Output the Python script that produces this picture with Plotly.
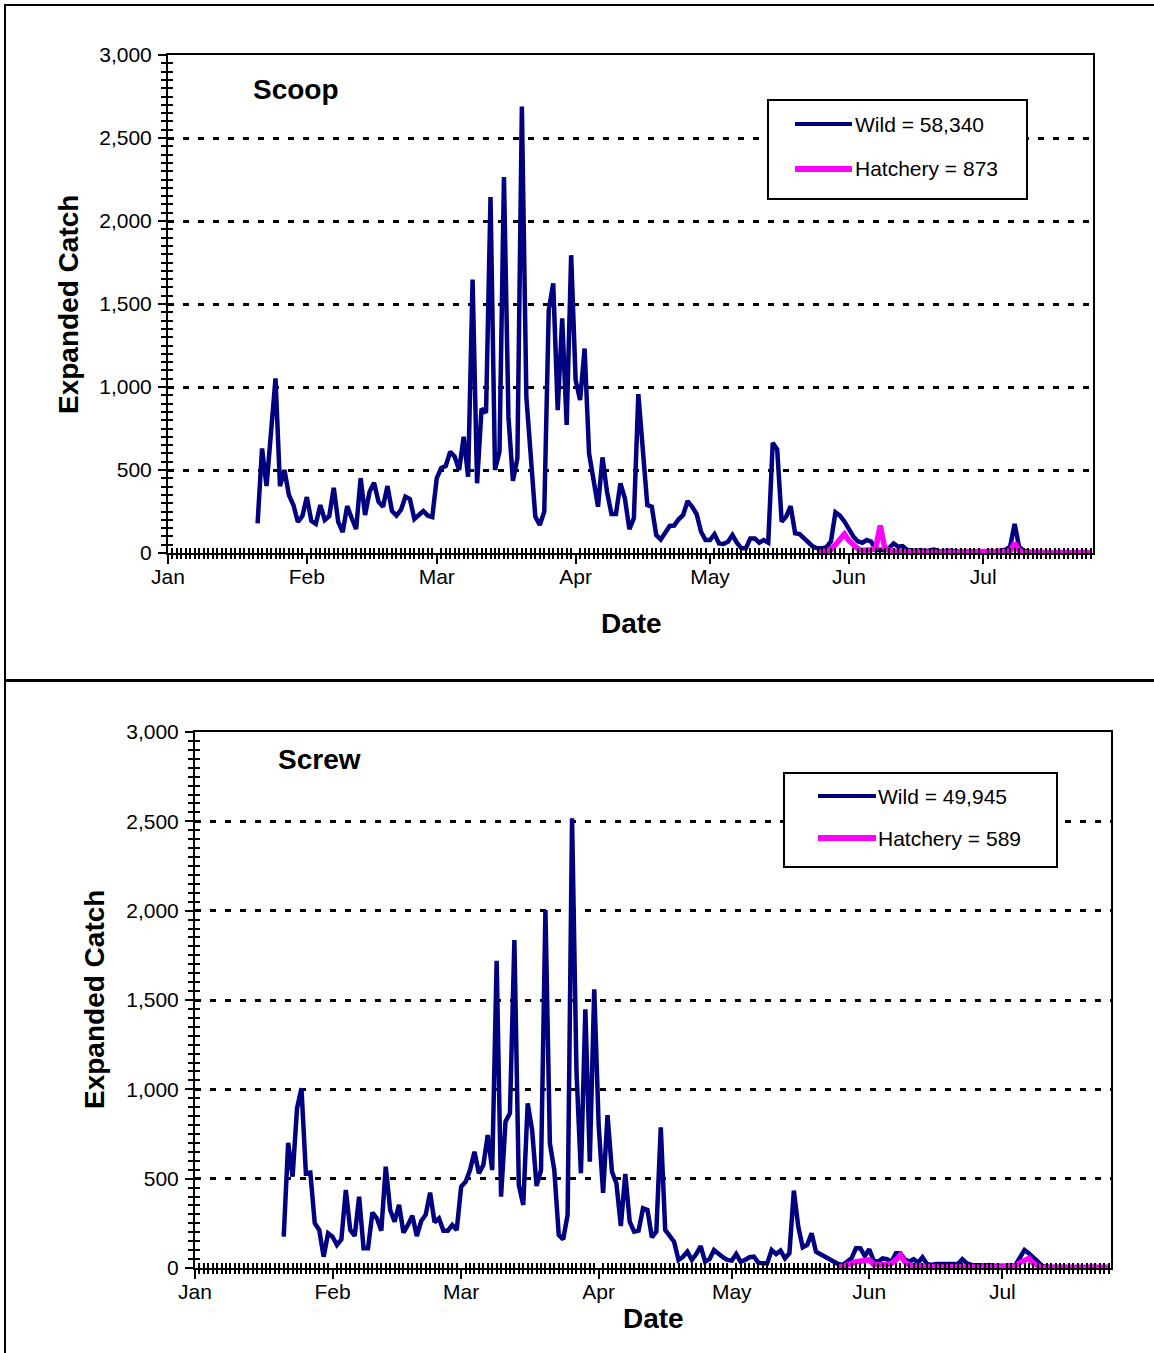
import plotly.graph_objects as go
import pandas as pd

W, H = 1154, 1353
def px(x): return x / W
def py(y): return 1 - y / H

FONT = "Liberation Sans, Arial, sans-serif"
NAVY = "#000080"
PINK = "#FF00FF"

axis_start = "2004-01-01"
axis_end = "2004-07-25 12:00"
wild_start = "2004-01-21"
hatch_start = "2004-05-25"

# Scoop trap, daily expanded catch (wild), Jan 21 - Jul 25
scoop_wild = [
    179, 630, 403, 728, 1052, 403, 500, 349, 289, 187,
    223, 337, 193, 175, 289, 199, 223, 393, 187, 126,
    283, 211, 144, 451, 229, 369, 423, 309, 279, 403,
    253, 225, 259, 339, 325, 205, 229, 253, 225, 217,
    451, 512, 524, 610, 580, 500, 700, 459, 1648, 420,
    870, 845, 2145, 500, 610, 2265, 820, 435, 570, 2690,
    940, 580, 219, 169, 249, 1463, 1624, 861, 1413, 771,
    1794, 1041, 921, 1232, 600, 440, 279, 576, 369, 235,
    235, 419, 329, 143, 209, 957, 640, 289, 279, 108,
    82, 119, 163, 165, 203, 229, 313, 279, 235, 128,
    78, 78, 113, 58, 54, 68, 108, 62, 28, 28,
    88, 88, 62, 78, 62, 664, 624, 189, 219, 283,
    119, 114, 88, 62, 38, 28, 28, 35, 70, 245,
    225, 190, 145, 100, 70, 62, 78, 68, 18, 20,
    15, 30, 58, 38, 42, 18, 15, 12, 18, 10,
    15, 20, 12, 10, 15, 12, 10, 8, 12, 10,
    8, 10, 8, 12, 10, 8, 15, 20, 38, 175,
    38, 14, 8, 6, 5, 5, 5, 4, 5, 4,
    5, 5, 4, 5, 4, 5, 5,
]
# Scoop trap, hatchery, May 25 - Jul 25
scoop_hatch = [
    0, 5, 10, 20, 50, 80, 114, 75, 50, 25,
    15, 15, 20, 30, 165, 30, 15, 10, 8, 6,
    6, 5, 5, 5, 4, 5, 5, 4, 5, 4,
    5, 5, 4, 5, 4, 5, 4, 5, 5, 4,
    5, 6, 8, 10, 60, 15, 5, 4, 3, 3,
    3, 3, 3, 3, 3, 3, 3, 3, 3, 3,
    3, 3,
]
# Screw trap, wild, Jan 21 - Jul 25
screw_wild = [
    175, 701, 511, 894, 1006, 530, 534, 250, 213, 63,
    194, 175, 129, 160, 437, 213, 179, 399, 110, 110,
    310, 278, 209, 567, 325, 259, 353, 198, 241, 293,
    179, 263, 297, 422, 256, 278, 209, 209, 241, 213,
    455, 483, 548, 651, 530, 576, 744, 548, 1720, 399,
    819, 866, 1836, 465, 353, 922, 772, 459, 548, 2004,
    698, 548, 185, 160, 297, 2517, 1100, 530, 1448, 595,
    1560, 800, 420, 856, 539, 474, 235, 526, 259, 203,
    209, 334, 325, 172, 203, 787, 213, 179, 147, 45,
    63, 91, 45, 78, 123, 35, 49, 101, 78, 60,
    45, 41, 78, 35, 45, 60, 63, 30, 26, 26,
    101, 78, 97, 54, 82, 433, 231, 116, 129, 194,
    91, 78, 60, 54, 41, 22, 17, 35, 54, 110,
    110, 67, 105, 41, 35, 54, 49, 35, 82, 82,
    49, 35, 49, 30, 60, 22, 17, 22, 22, 17,
    22, 17, 22, 49, 26, 17, 13, 15, 13, 17,
    13, 15, 13, 12, 13, 17, 60, 101, 82, 54,
    35, 11, 6, 5, 5, 4, 5, 4, 4, 5,
    4, 4, 5, 4, 4, 5, 4,
]
# Screw trap, hatchery, May 25 - Jul 25
screw_hatch = [
    3, 8, 15, 25, 35, 40, 42, 45, 20, 17,
    18, 20, 25, 45, 73, 35, 17, 12, 10, 8,
    8, 8, 6, 6, 6, 8, 10, 8, 6, 5,
    5, 5, 5, 5, 5, 5, 5, 5, 6, 8,
    12, 30, 45, 54, 25, 11, 4, 4, 4, 4,
    4, 4, 4, 4, 4, 4, 4, 4, 4, 4,
    4, 4,
]

panel_titles = ["Scoop", "Screw"]
legend_scoop = ["Wild = 58,340", "Hatchery = 873"]
legend_screw = ["Wild = 49,945", "Hatchery = 589"]
y_title = "Expanded Catch"
x_title = "Date"


def days(start, n):
    return pd.date_range(start, periods=n, freq="D")


fig = go.Figure()
fig.add_trace(go.Scatter(x=days(wild_start, len(scoop_wild)), y=scoop_wild,
                         xaxis="x", yaxis="y", mode="lines",
                         line=dict(color=NAVY, width=4.5), showlegend=False))
fig.add_trace(go.Scatter(x=days(hatch_start, len(scoop_hatch)), y=scoop_hatch,
                         xaxis="x3", yaxis="y3", mode="lines",
                         line=dict(color=PINK, width=5.5), showlegend=False))
fig.add_trace(go.Scatter(x=days(wild_start, len(screw_wild)), y=screw_wild,
                         xaxis="x2", yaxis="y2", mode="lines",
                         line=dict(color=NAVY, width=4.5), showlegend=False))
fig.add_trace(go.Scatter(x=days(hatch_start, len(screw_hatch)), y=screw_hatch,
                         xaxis="x4", yaxis="y4", mode="lines",
                         line=dict(color=PINK, width=5.5), showlegend=False))

DAY = 86400000
tickfont = dict(family=FONT, size=21, color="black")


def main_x(domain, anchor):
    return dict(type="date", range=[axis_start, axis_end], domain=domain, anchor=anchor,
                dtick="M1", tick0=axis_start, tickformat="%b", ticks="outside",
                ticklen=9, tickwidth=2, tickcolor="black", showline=True,
                linewidth=2, linecolor="black", mirror=True, showgrid=False,
                zeroline=False, tickfont=tickfont, ticklabelstandoff=-5,
                automargin=False,
                minor=dict(dtick=DAY, tick0=axis_start, ticks="outside", ticklen=4,
                           tickwidth=2, tickcolor="black", showgrid=False))


def over_x(over, anchor):
    return dict(type="date", range=[axis_start, axis_end], overlaying=over, anchor=anchor,
                dtick="M1", tick0=axis_start, ticks="", showticklabels=False,
                showline=False, showgrid=False, zeroline=False, automargin=False,
                minor=dict(dtick=DAY, tick0=axis_start, ticks="inside", ticklen=5,
                           tickwidth=2, tickcolor="black", showgrid=False))


def main_y(domain, anchor):
    return dict(range=[0, 3000], domain=domain, anchor=anchor, dtick=500, tick0=0,
                tickformat=",d", ticks="outside", ticklen=8, tickwidth=2,
                tickcolor="black", showline=True, linewidth=2, linecolor="black",
                mirror=True, showgrid=True, gridcolor="black", gridwidth=2.5,
                griddash="6px,9px", zeroline=False, tickfont=tickfont,
                ticklabelstandoff=2, automargin=False,
                minor=dict(dtick=50, ticks="outside", ticklen=5, tickwidth=2,
                           tickcolor="black", showgrid=False))


def over_y(over, anchor):
    return dict(range=[0, 3000], overlaying=over, anchor=anchor, dtick=500, tick0=0,
                ticks="", showticklabels=False, showline=False, showgrid=False,
                zeroline=False, automargin=False,
                minor=dict(dtick=50, ticks="inside", ticklen=5, tickwidth=2,
                           tickcolor="black", showgrid=False))


top_xd = [px(168), px(1093)]
top_yd = [py(553), py(55)]
bot_xd = [px(195), px(1111)]
bot_yd = [py(1268), py(732)]

fig.update_layout(
    template="none",
    width=W, height=H, autosize=False,
    margin=dict(l=0, r=0, t=0, b=0, pad=0, autoexpand=False),
    paper_bgcolor="white", plot_bgcolor="white",
    font=dict(family=FONT, color="black"),
    xaxis=main_x(top_xd, "y"), yaxis=main_y(top_yd, "x"),
    xaxis3=over_x("x", "y3"), yaxis3=over_y("y", "x3"),
    xaxis2=main_x(bot_xd, "y2"), yaxis2=main_y(bot_yd, "x2"),
    xaxis4=over_x("x2", "y4"), yaxis4=over_y("y2", "x4"),
    showlegend=False,
)

shapes = [
    dict(type="rect", xref="paper", yref="paper", x0=px(5), x1=px(1175),
         y0=py(680), y1=py(5), line=dict(color="black", width=2)),
    dict(type="rect", xref="paper", yref="paper", x0=px(5), x1=px(1175),
         y0=py(1375), y1=py(681), line=dict(color="black", width=2)),
]
annotations = []


def add_legend(box, rows, line_x, text_x, labels):
    x0, y0, x1, y1 = box
    shapes.append(dict(type="rect", xref="paper", yref="paper", x0=px(x0), x1=px(x1),
                       y0=py(y1), y1=py(y0), fillcolor="white",
                       line=dict(color="black", width=2)))
    for (yy, col, wd, lab) in zip(rows, [NAVY, PINK], [4, 6], labels):
        shapes.append(dict(type="line", xref="paper", yref="paper",
                           x0=px(line_x[0]), x1=px(line_x[1]), y0=py(yy), y1=py(yy),
                           line=dict(color=col, width=wd)))
        annotations.append(dict(xref="paper", yref="paper", x=px(text_x), y=py(yy),
                                text=lab, showarrow=False, xanchor="left",
                                yanchor="middle", font=dict(family=FONT, size=21,
                                                            color="black")))


add_legend((768, 100, 1027, 199), (124, 169), (795, 852), 853, legend_scoop)
add_legend((784, 773, 1057, 867), (796, 838), (818, 876), 876, legend_screw)

bold = dict(family=FONT, size=28, color="black")
for title, (tx, ty) in zip(panel_titles, [(251, 89), (276, 759)]):
    annotations.append(dict(xref="paper", yref="paper", x=px(tx), y=py(ty),
                            text="<b>%s</b>" % title, showarrow=False,
                            xanchor="left", yanchor="middle", font=bold))
for (cx, cy) in [(68, 305), (94, 1000)]:
    annotations.append(dict(xref="paper", yref="paper", x=px(cx), y=py(cy),
                            text="<b>%s</b>" % y_title, showarrow=False, textangle=-90,
                            xanchor="center", yanchor="middle", font=bold))
for (cx, cy) in [(631, 623), (653, 1318)]:
    annotations.append(dict(xref="paper", yref="paper", x=px(cx), y=py(cy),
                            text="<b>%s</b>" % x_title, showarrow=False,
                            xanchor="center", yanchor="middle", font=bold))

fig.update_layout(shapes=shapes, annotations=annotations)
fig.write_html("out.html", config={"displayModeBar": False},
               post_script="document.body.style.margin='0';"
                           "document.body.style.overflow='hidden';")
